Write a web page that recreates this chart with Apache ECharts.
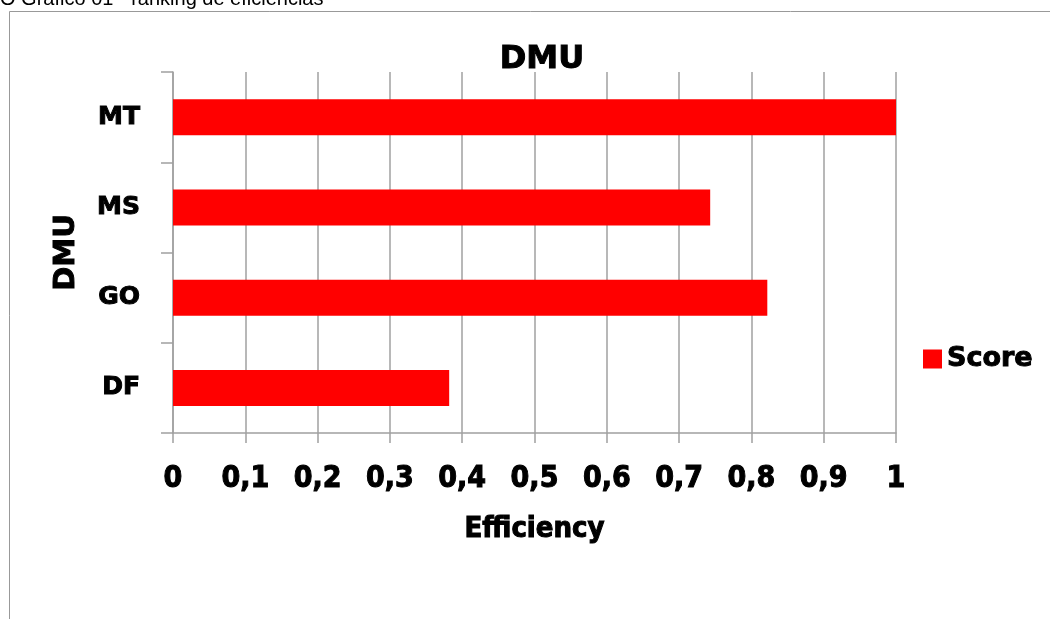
<!DOCTYPE html>
<html><head><meta charset="utf-8">
<script src="https://cdn.jsdelivr.net/npm/echarts@6/dist/echarts.min.js"></script>
<style>html,body{margin:0;padding:0;background:#fff}#c{width:1050px;height:619px}</style>
</head><body><div id="c"></div>
<script>
const categories = ['DF', 'GO', 'MS', 'MT'];
const scores = [0.382, 0.822, 0.743, 1.0];
const seriesName = 'Score';
const chartTitle = 'DMU';
const xAxisName = 'Efficiency';
const yAxisName = 'DMU';
const caption = 'O Gráfico 01 - ranking de eficiências';

const heavy = '"DejaVu Sans", "Liberation Sans", sans-serif';
const cond = '"DejaVu Sans Condensed", "Liberation Sans Narrow", sans-serif';
const thick = {textBorderColor: '#000', textBorderWidth: 1};
const chart = echarts.init(document.getElementById('c'));
chart.setOption({
  animation: false,
  backgroundColor: '#fff',
  title: {
    text: chartTitle, left: 537, top: 39, textAlign: 'center',
    textStyle: Object.assign({fontFamily: heavy, fontWeight: 'bold', fontSize: 32, color: '#000'}, thick)
  },
  legend: {
    left: 918, top: 340, itemWidth: 19, itemHeight: 19, icon: 'rect', itemGap: 8,
    textStyle: Object.assign({fontFamily: heavy, fontWeight: 'bold', fontSize: 27, color: '#000'}, thick),
    data: [seriesName]
  },
  grid: {left: 173, right: 154, top: 72, bottom: 186, containLabel: false},
  xAxis: {
    type: 'value', min: 0, max: 1, interval: 0.1,
    name: xAxisName, nameLocation: 'middle', nameGap: 82,
    nameTextStyle: Object.assign({fontFamily: cond, fontWeight: 'bold', fontSize: 29, color: '#000'}, thick),
    axisLine: {show: true, lineStyle: {color: '#a0a0a0', width: 1.5}},
    axisTick: {show: true, length: 10, lineStyle: {color: '#a0a0a0', width: 1.5}},
    splitLine: {show: true, lineStyle: {color: '#a0a0a0', width: 1.5}},
    axisLabel: Object.assign({
      margin: 31, fontFamily: cond, fontWeight: 'bold', fontSize: 30, color: '#000',
      formatter: v => String(Math.round(v * 10) / 10).replace('.', ',')
    }, thick)
  },
  yAxis: {
    type: 'category', data: categories,
    name: yAxisName, nameLocation: 'middle', nameGap: 92, nameRotate: 90,
    nameTextStyle: Object.assign({fontFamily: heavy, fontWeight: 'bold', fontSize: 29, color: '#000'}, thick),
    axisLine: {show: true, lineStyle: {color: '#a0a0a0', width: 1.5}},
    axisTick: {show: true, length: 12, lineStyle: {color: '#a0a0a0', width: 1.5}},
    axisLabel: Object.assign({margin: 33, fontFamily: heavy, fontWeight: 'bold', fontSize: 25, color: '#000'}, thick)
  },
  series: [{
    name: seriesName, type: 'bar', data: scores, barWidth: 36,
    itemStyle: {color: '#ff0000'}
  }],
  graphic: [
    {type: 'rect', shape: {x: 9.5, y: 11.5, width: 1100, height: 700}, style: {fill: 'none', stroke: '#999', lineWidth: 1}, silent: true},
    {type: 'text', left: 0, top: -11, style: {text: caption, fontFamily: '"Liberation Sans", Arial, sans-serif', fontSize: 20, fill: '#000'}}
  ]
});
</script></body></html>
